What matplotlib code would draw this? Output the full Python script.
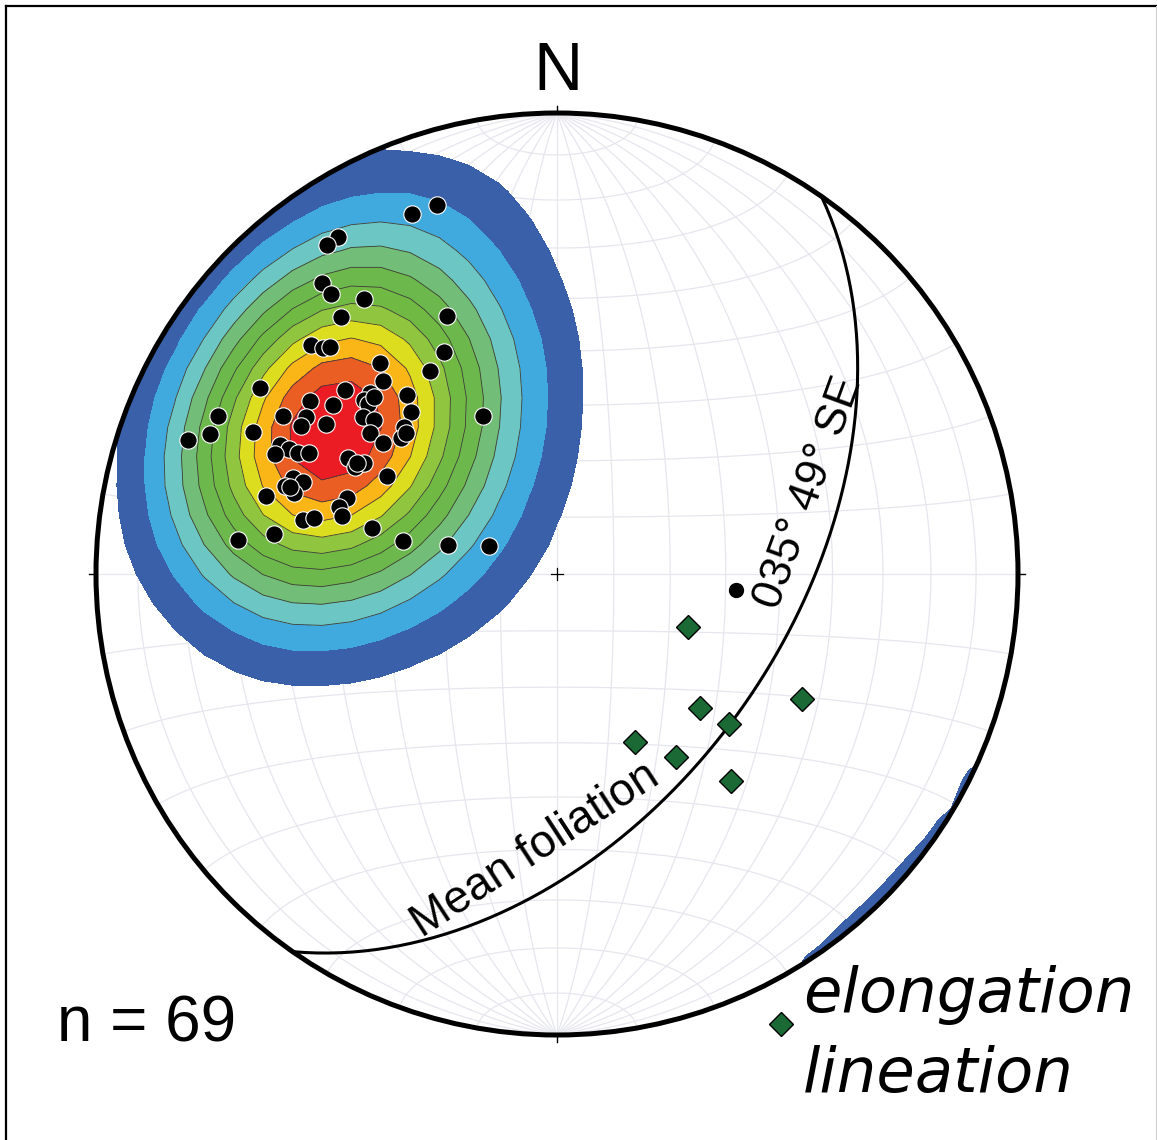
import numpy as np
import matplotlib
matplotlib.use("Agg")
import matplotlib.pyplot as plt
from matplotlib.patches import Circle
from matplotlib.lines import Line2D

# poles to foliation (trend, plunge in degrees), lower hemisphere
pole_trend = [342, 338, 327, 325, 321, 321, 325, 337, 320, 333, 313, 314, 315, 320, 328, 318,
              302, 311, 314, 312, 312, 320, 318, 305, 307, 295, 300, 302, 300, 303, 309, 310,
              314, 295, 307, 307, 311, 290, 292, 295, 295, 295, 296, 293, 299, 298, 300, 300,
              290, 290, 288, 287, 285, 290, 287, 285, 282, 283, 284, 278, 276, 282, 285, 292,
              335, 314, 288, 299, 313]
pole_plunge = [17, 17, 14, 14, 20, 23, 28, 39, 28, 45, 28, 30, 31, 40, 47, 43,
               25, 39, 43, 43, 44, 48, 51, 35, 39, 20, 32, 36, 36, 40, 45, 47,
               52, 28, 48, 51, 53, 16, 20, 34, 36, 38, 40, 34, 47, 49, 50, 55,
               39, 41, 38, 40, 35, 50, 49, 50, 43, 45, 56, 38, 31, 62, 70, 77,
               59, 44, 39, 49, 53]

# elongation lineations
lin_trend = [112, 117, 133, 131, 155, 147, 140]
lin_plunge = [65, 40, 55, 49, 57, 51, 41]

# mean point
mean_trend = [95]
mean_plunge = [58]

# mean foliation (right-hand rule)
strike, dip = 35, 49
n_label = "n = 69"
plane_label = "035° 49° SE"

level_colors = ['#3b60aa', '#40aadf', '#6bc6c4', '#72bd78', '#6db84c', '#70ba44',
                '#8fc53f', '#dcdd1f', '#fab516', '#ea5e24', '#ec1c24']

CX, CY, RR = 557.0, 574.0, 461.0   # net centre / radius in pixels


def to_vec(trend, plunge):
    t, p = np.radians(trend), np.radians(plunge)
    return np.stack([np.cos(p) * np.sin(t), np.cos(p) * np.cos(t), np.sin(p)], -1)


def project(v):
    # Schmidt (equal area) lower hemisphere
    e, n, d = v[..., 0], v[..., 1], v[..., 2]
    s = 1 / np.sqrt(1 + d)
    return e * s, n * s


def px2d(x, y):
    return (x - CX) / RR, (CY - y) / RR


fig = plt.figure(figsize=(11.57, 11.40), dpi=100)
ax = fig.add_axes([0, 0, 1, 1])
ax.set_xlim(-CX / RR, (1157 - CX) / RR)
ax.set_ylim(-(1140 - CY) / RR, CY / RR)
ax.axis('off')

# --- net grid (equal area, 10 deg) ---
t = np.linspace(0, np.pi, 181)
gcol = '#e6e6ee'
for dd in range(10, 180, 10):
    a = np.radians(dd)
    v = np.stack([np.sin(t) * np.cos(a), np.cos(t), np.sin(t) * np.sin(a)], -1)
    x, y = project(v)
    ax.plot(x, y, color=gcol, lw=0.9, zorder=1)
for aa in range(10, 180, 10):
    a = np.radians(aa)
    v = np.stack([np.sin(a) * np.cos(t), np.full_like(t, np.cos(a)), np.sin(a) * np.sin(t)], -1)
    x, y = project(v)
    ax.plot(x, y, color=gcol, lw=0.9, zorder=1)

# --- density contours (exponential Kamb style) ---
P = to_vec(pole_trend, pole_plunge)
npol = len(P)
k = 12.5
gx = np.linspace(-1.02, 1.02, 33)
GX, GY = np.meshgrid(gx, gx)
rg = np.hypot(GX, GY)
sc = np.where(rg > 1, 1 / np.maximum(rg, 1e-9), 1)
X, Y = GX * sc, GY * sc
D = np.clip(1 - (X ** 2 + Y ** 2), 0, 1)
G = np.stack([X * np.sqrt(1 + D), Y * np.sqrt(1 + D), D], -1)
dens = np.exp(k * (np.abs(G @ P.T) - 1)).sum(-1) / (npol / k)
dmax = dens.max()
levels = list(np.linspace(0.1 * dmax, 0.92 * dmax, 11)) + [dmax * 1.001]

clip = Circle((0, 0), 1, transform=ax.transData)
cf = ax.contourf(GX, GY, dens, levels=levels, colors=level_colors, zorder=2)
cf.set_clip_path(clip)
cl = ax.contour(GX, GY, dens, levels=levels[2:-1], colors='#3c3c3c', linewidths=0.6, zorder=3)
cl.set_clip_path(clip)

# --- primitive, ticks, centre ---
ax.add_patch(Circle((0, 0), 1, fill=False, ec='black', lw=3.6, zorder=5))
for ang in (0, 90, 180, 270):
    a = np.radians(ang)
    ax.plot([np.sin(a), 1.016 * np.sin(a)], [np.cos(a), 1.016 * np.cos(a)], color='black', lw=1, zorder=5)
ax.plot([-0.013, 0.013], [0, 0], color='black', lw=0.9, zorder=5)
ax.plot([0, 0], [-0.013, 0.013], color='black', lw=0.9, zorder=5)

# --- mean foliation great circle ---
sv = to_vec(strike, 0)
dv = to_vec(strike + 90, dip)
v = np.cos(t)[:, None] * sv + np.sin(t)[:, None] * dv
x, y = project(v)
ax.plot(x, y, color='black', lw=2.2, zorder=4)

# --- poles, mean, lineations ---
x, y = project(P)
ax.plot(x, y, 'o', ms=12.5, mfc='black', mec='white', mew=0.8, zorder=6, ls='none')
x, y = project(to_vec(mean_trend, mean_plunge))
ax.plot(x, y, 'o', ms=10, mfc='black', mec='black', zorder=6, ls='none')
x, y = project(to_vec(lin_trend, lin_plunge))
ax.plot(x, y, 'D', ms=12, mfc='#1b6a35', mec='black', mew=1, zorder=6, ls='none')

# --- labels ---
ax.text(*px2d(558, 72), 'N', fontsize=49, family='Liberation Sans', ha='center', va='center')
ax.text(*px2d(57, 1042), n_label, fontsize=46, family='Liberation Sans', ha='left', va='baseline')
ax.text(*px2d(535, 850), 'Mean foliation', fontsize=33, family='Liberation Sans',
        rotation=33, rotation_mode='anchor', ha='center', va='center')
ax.text(*px2d(809, 493), plane_label, fontsize=32, family='Liberation Sans',
        rotation=70, rotation_mode='anchor', ha='center', va='center')
ax.plot(*px2d(781, 1024), 'D', ms=12, mfc='#1b6a35', mec='black', mew=1, zorder=6)
ax.text(*px2d(803, 1012), 'elongation', fontsize=45, family='DejaVu Sans', style='italic',
        ha='left', va='baseline')
ax.text(*px2d(803, 1092), 'lineation', fontsize=45, family='DejaVu Sans', style='italic',
        ha='left', va='baseline')

# frame
fig.add_artist(Line2D([6 / 1157, 6 / 1157], [0, 1 - 6 / 1140], color='black', lw=1.6))
fig.add_artist(Line2D([6 / 1157, 1], [1 - 6 / 1140, 1 - 6 / 1140], color='black', lw=1.6))
fig.add_artist(Line2D([1156 / 1157, 1156 / 1157], [0, 1 - 6 / 1140], color='#cccccc', lw=0.8))

fig.savefig('out.png', dpi=100)
